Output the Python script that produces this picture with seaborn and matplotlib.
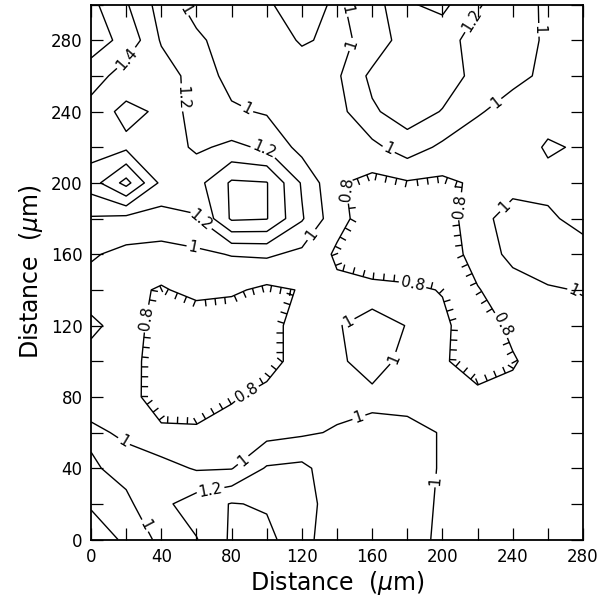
import numpy as np
import matplotlib
matplotlib.use("Agg")
import matplotlib.pyplot as plt
import matplotlib.patheffects as pe
from matplotlib.ticker import MultipleLocator
import seaborn as sns

# ---- data: grid positions (µm) and measured values (rows = y, cols = x) ----
x_um = [0, 20, 40, 60, 80, 100, 120, 140, 160, 180, 200, 220, 240, 260, 280]
y_um = [0, 20, 40, 60, 80, 100, 120, 140, 160, 180, 200, 220, 240, 260, 280, 300]

row_y000 = [1.05, 0.985, 1.005, 1.19, 1.43, 1.45, 1.28, 1.05, 1.06, 1.04, 0.98, 0.93, 0.92, 0.92, 0.95]
row_y020 = [0.99, 0.96, 1.15, 1.30, 1.41, 1.38, 1.28, 1.10, 1.08, 1.06, 0.98, 0.92, 0.90, 0.90, 0.92]
row_y040 = [0.975, 1.06, 1.08, 0.98, 0.99, 1.22, 1.25, 1.07, 1.06, 1.05, 0.99, 0.93, 0.90, 0.90, 0.90]
row_y060 = [1.03, 0.975, 0.83, 0.83, 0.88, 0.93, 0.97, 1.02, 1.05, 1.05, 0.99, 0.92, 0.90, 0.90, 0.92]
row_y080 = [0.93, 0.86, 0.72, 0.70, 0.78, 0.86, 0.90, 0.93, 0.96, 0.94, 0.88, 0.84, 0.86, 0.90, 0.92]
row_y100 = [0.95, 0.87, 0.71, 0.62, 0.66, 0.72, 0.89, 0.97, 1.07, 0.95, 0.82, 0.72, 0.78, 0.91, 0.93]
row_y120 = [1.03, 0.94, 0.68, 0.66, 0.67, 0.72, 0.89, 0.98, 1.12, 0.99, 0.84, 0.68, 0.85, 0.93, 0.95]
row_y140 = [0.93, 0.85, 0.78, 0.86, 0.83, 0.76, 0.81, 0.84, 0.86, 0.84, 0.79, 0.79, 0.90, 0.98, 1.01]
row_y160 = [1.02, 0.95, 0.93, 0.96, 1.01, 1.03, 0.95, 0.77, 0.66, 0.64, 0.70, 0.87, 1.06, 1.12, 1.10]
row_y180 = [1.18, 1.14, 1.12, 1.18, 1.63, 1.61, 1.22, 0.86, 0.70, 0.65, 0.70, 0.92, 1.10, 1.04, 0.92]
row_y200 = [1.50, 1.87, 1.35, 1.33, 1.63, 1.61, 1.18, 0.82, 0.74, 0.78, 0.76, 0.83, 0.92, 0.93, 0.92]
row_y220 = [1.32, 1.36, 1.30, 1.17, 1.24, 1.17, 0.93, 0.85, 0.95, 1.10, 0.96, 0.88, 0.86, 1.03, 0.97]
row_y240 = [1.30, 1.45, 1.37, 1.09, 1.03, 0.98, 0.88, 0.93, 1.17, 1.30, 1.19, 1.02, 0.92, 0.90, 0.90]
row_y260 = [1.52, 1.28, 1.30, 1.12, 0.93, 0.88, 0.90, 0.97, 1.25, 1.32, 1.30, 1.14, 1.05, 0.96, 0.92]
row_y280 = [1.68, 1.55, 1.18, 1.04, 0.90, 0.90, 1.02, 0.96, 1.05, 1.32, 1.28, 1.12, 1.06, 0.98, 0.92]
row_y300 = [1.65, 1.42, 1.12, 0.92, 0.90, 0.98, 1.08, 0.97, 1.10, 1.38, 1.45, 1.22, 1.08, 0.97, 0.90]

levels_main = [1.0, 1.2, 1.4, 1.6, 1.8]
levels_low = [0.8]
tick_major = [0, 40, 80, 120, 160, 200, 240, 280]

# label placement hints (µm)
label_pos_main = [(20, 270), (53, 248), (50, 295), (89, 242), (98, 215), (63, 180),
                  (58, 163), (124, 172), (150, 277), (169, 218), (232, 243), (262, 286),
                  (219, 290), (141, 296), (235, 187), (274, 138), (146, 123), (171, 102),
                  (16, 51), (87, 44), (153, 67), (197, 33), (33, 9), (68, 28)]
label_pos_low = [(143.5, 196), (209, 187), (184, 147), (235, 121), (31, 124), (88, 83)]

Z = np.array([row_y000, row_y020, row_y040, row_y060, row_y080, row_y100, row_y120,
              row_y140, row_y160, row_y180, row_y200, row_y220, row_y240, row_y260,
              row_y280, row_y300])

sns.set_theme(style="ticks")
plt.rcParams['font.family'] = ['DejaVu Sans']

fig = plt.figure(figsize=(6.1, 6.02), dpi=100)
ax = fig.add_axes([0.1492, 0.1037, 0.8066, 0.8887])

cs = ax.contour(x_um, y_um, Z, levels=levels_main, colors='black', linewidths=1.0)
cs_low = ax.contour(x_um, y_um, Z, levels=levels_low, colors='black', linewidths=1.0)

def fmt(v):
    return f"{v:g}"

ax.clabel(cs, fmt=fmt, manual=label_pos_main, inline=True, fontsize=11, inline_spacing=2)
ax.clabel(cs_low, fmt=fmt, manual=label_pos_low, inline=True, fontsize=11, inline_spacing=2)
cs_low.set(path_effects=[pe.withTickedStroke(angle=-90, spacing=7, length=0.7)])

ax.set_xlim(0, 280)
ax.set_ylim(0, 300)
ax.set_xticks(tick_major)
ax.set_yticks(tick_major)
ax.xaxis.set_minor_locator(MultipleLocator(20))
ax.yaxis.set_minor_locator(MultipleLocator(20))
ax.tick_params(which='both', direction='in', length=8.5, width=0.9, top=True, right=True,
               color='black', labelsize=12, labelcolor='black', pad=6)
for s in ax.spines.values():
    s.set_linewidth(1.3)
    s.set_color('black')
ax.set_xlabel('Distance  ($\\mu$m)', fontsize=17, labelpad=2, color='black')
ax.set_ylabel('Distance  ($\\mu$m)', fontsize=17, labelpad=4, color='black')

fig.savefig('out.png', dpi=100, facecolor='white')
